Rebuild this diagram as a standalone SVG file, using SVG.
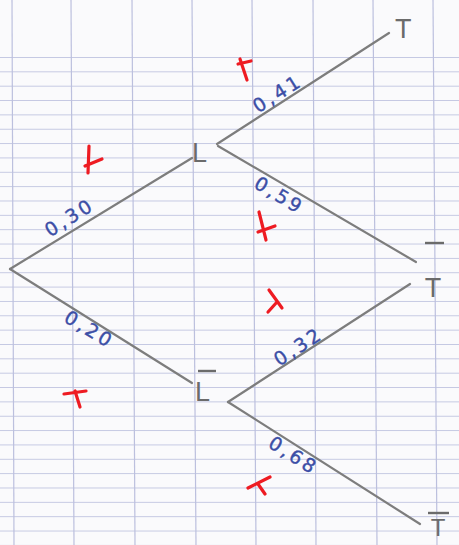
<svg xmlns="http://www.w3.org/2000/svg" width="459" height="545" viewBox="0 0 459 545">
<defs>
<pattern id="hl" patternUnits="userSpaceOnUse" x="0" y="57" width="459" height="14.35">
<line x1="0" y1="0.5" x2="459" y2="0.5" stroke="#c4c8e2" stroke-width="1.1"/>
</pattern>
</defs>
<style>
.grid{stroke:#bcc0de;stroke-width:1.2}
.edge{stroke:#7d7d7d;stroke-width:2.2;stroke-linecap:round;fill:none}
.node{font-family:"Liberation Sans",Arial,sans-serif;font-size:27px;fill:#6b6b6b}
.bar{stroke:#6b6b6b;stroke-width:2.4}
.prob{font-family:"DejaVu Sans",sans-serif;font-size:19px;fill:#3b4ea6;letter-spacing:3px;stroke:#3b4ea6;stroke-width:0.4}
.mark{stroke:#ee1b22;stroke-width:3.2;stroke-linecap:round;fill:none}
</style>
<rect width="459" height="545" fill="#fafafc"/>
<rect x="0" y="50" width="459" height="495" fill="url(#hl)"/>
<g id="grid">
<line class="grid" x1="12" y1="0" x2="14" y2="545"/>
<line class="grid" x1="71" y1="0" x2="74" y2="545"/>
<line class="grid" x1="132" y1="0" x2="135" y2="545"/>
<line class="grid" x1="192" y1="0" x2="196" y2="545"/>
<line class="grid" x1="252" y1="0" x2="256" y2="545"/>
<line class="grid" x1="313" y1="0" x2="316" y2="545"/>
<line class="grid" x1="373" y1="0" x2="377" y2="545"/>
<line class="grid" x1="433" y1="0" x2="437" y2="545"/>
</g>
<g id="connectors">
<line class="edge" x1="10" y1="269" x2="192" y2="158"/>
<line class="edge" x1="217" y1="144" x2="389" y2="33"/>
<line class="edge" x1="218" y1="146" x2="416" y2="262"/>
<line class="edge" x1="10" y1="269" x2="192" y2="383"/>
<line class="edge" x1="228" y1="402" x2="410" y2="284"/>
<line class="edge" x1="228" y1="402" x2="420" y2="524"/>
</g>
<g id="node-T-top"><text class="node" x="395" y="38">T</text></g>
<g id="node-L-top"><text class="node" x="192" y="162">L</text></g>
<g id="node-Tbar-mid"><line class="bar" x1="425" y1="243" x2="444" y2="243"/><text class="node" text-anchor="middle" x="433" y="297">T</text></g>
<g id="node-Lbar"><line class="bar" x1="198" y1="371" x2="216" y2="371"/><text class="node" x="195" y="401">L</text></g>
<g id="node-Tbar-bot"><line class="bar" x1="428" y1="513" x2="449" y2="513"/><text class="node" text-anchor="middle" x="438" y="536" style="font-size:24px">T</text></g>
<g id="labels">
<text class="prob" text-anchor="middle" transform="translate(281,99) rotate(-32)">0,41</text>
<text class="prob" text-anchor="middle" transform="translate(276,201) rotate(31)">0,59</text>
<text class="prob" text-anchor="middle" transform="translate(73,223) rotate(-32)">0,30</text>
<text class="prob" text-anchor="middle" transform="translate(86,335) rotate(31)">0,20</text>
<text class="prob" text-anchor="middle" transform="translate(302,352) rotate(-33)">0,32</text>
<text class="prob" text-anchor="middle" transform="translate(290,461) rotate(32)">0,68</text>
</g>
<g id="marks">
<path class="mark" d="M240 59 L247 80 M238 64 L251 61"/>
<path class="mark" d="M89 146 L88 173 M85 166 L102 159"/>
<path class="mark" d="M259 212 L266 240 M258 232 L275 226"/>
<path class="mark" d="M269 290 L282 308 M268 312 L277 302"/>
<path class="mark" d="M64 394 L86 391 M75 391 L80 407"/>
<path class="mark" d="M248 488 L270 477 M258 484 L265 494"/>
</g>
</svg>
